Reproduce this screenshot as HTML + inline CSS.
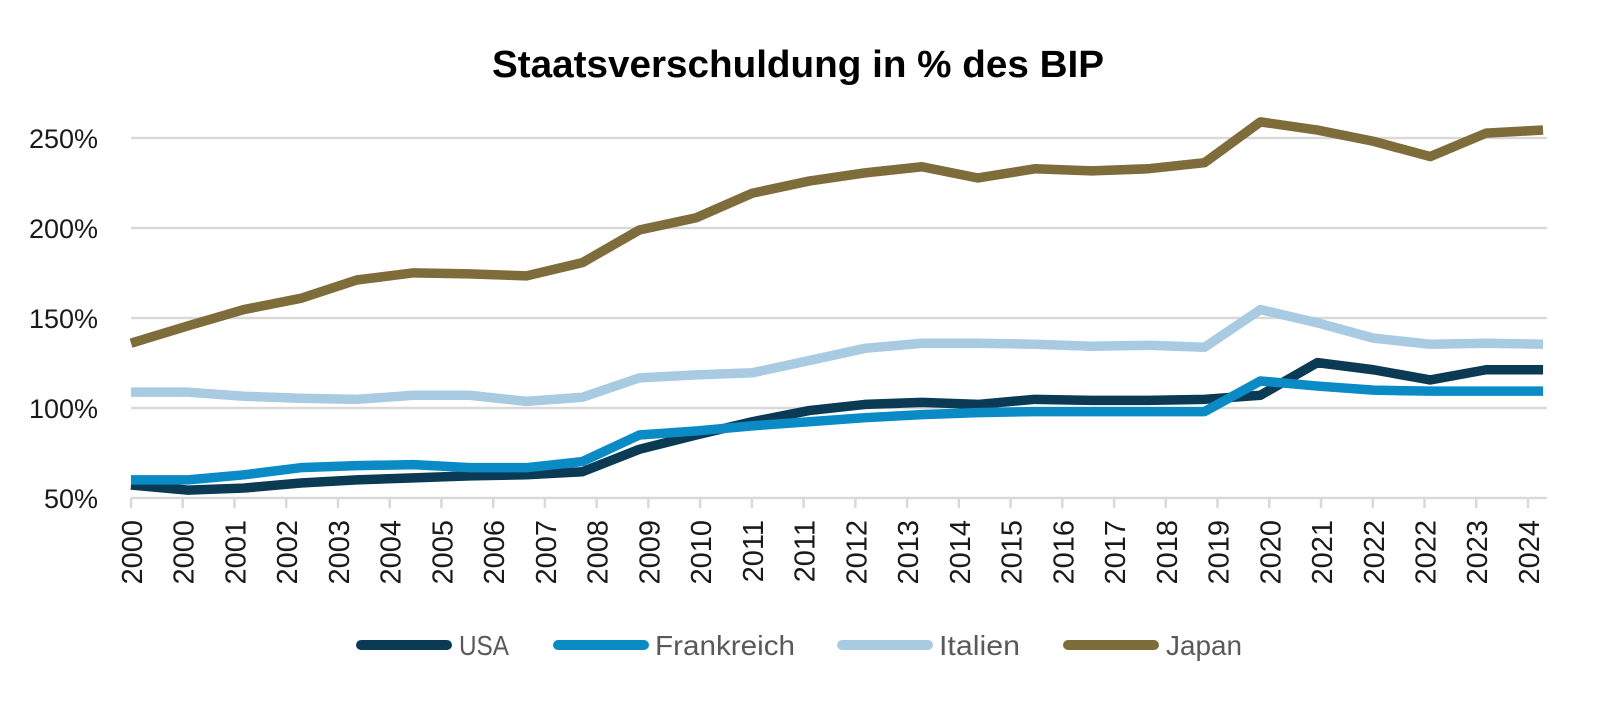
<!DOCTYPE html>
<html><head><meta charset="utf-8"><style>
html,body{margin:0;padding:0;background:#fff;}
svg{display:block;}
</style></head><body>
<svg width="1597" height="708" viewBox="0 0 1597 708" xmlns="http://www.w3.org/2000/svg" font-family="'Liberation Sans', sans-serif">
<rect width="1597" height="708" fill="#fff"/>
<text x="798" y="77" text-anchor="middle" font-size="38" font-weight="bold" fill="#000" textLength="612" lengthAdjust="spacingAndGlyphs">Staatsverschuldung in % des BIP</text>
<g stroke="#d9d9d9" stroke-width="2.5">
<line x1="131" x2="1547" y1="138" y2="138"/>
<line x1="131" x2="1547" y1="228" y2="228"/>
<line x1="131" x2="1547" y1="318" y2="318"/>
<line x1="131" x2="1547" y1="408" y2="408"/>
<line x1="131" x2="1547" y1="498" y2="498"/>
</g>
<g font-size="27" fill="#1a1a1a" text-anchor="end">
<text x="98" y="148">250%</text>
<text x="98" y="238">200%</text>
<text x="98" y="328">150%</text>
<text x="98" y="418">100%</text>
<text x="98" y="508">50%</text>
</g>
<g stroke="#d9d9d9" stroke-width="2.5">
<line x1="131" x2="131" y1="498" y2="508"/>
<line x1="182.7" x2="182.7" y1="498" y2="508"/>
<line x1="234.5" x2="234.5" y1="498" y2="508"/>
<line x1="286.2" x2="286.2" y1="498" y2="508"/>
<line x1="338" x2="338" y1="498" y2="508"/>
<line x1="389.7" x2="389.7" y1="498" y2="508"/>
<line x1="441.4" x2="441.4" y1="498" y2="508"/>
<line x1="493.2" x2="493.2" y1="498" y2="508"/>
<line x1="544.9" x2="544.9" y1="498" y2="508"/>
<line x1="596.7" x2="596.7" y1="498" y2="508"/>
<line x1="648.4" x2="648.4" y1="498" y2="508"/>
<line x1="700.1" x2="700.1" y1="498" y2="508"/>
<line x1="751.9" x2="751.9" y1="498" y2="508"/>
<line x1="803.6" x2="803.6" y1="498" y2="508"/>
<line x1="855.4" x2="855.4" y1="498" y2="508"/>
<line x1="907.1" x2="907.1" y1="498" y2="508"/>
<line x1="958.8" x2="958.8" y1="498" y2="508"/>
<line x1="1010.6" x2="1010.6" y1="498" y2="508"/>
<line x1="1062.3" x2="1062.3" y1="498" y2="508"/>
<line x1="1114.1" x2="1114.1" y1="498" y2="508"/>
<line x1="1165.8" x2="1165.8" y1="498" y2="508"/>
<line x1="1217.5" x2="1217.5" y1="498" y2="508"/>
<line x1="1269.3" x2="1269.3" y1="498" y2="508"/>
<line x1="1321" x2="1321" y1="498" y2="508"/>
<line x1="1372.8" x2="1372.8" y1="498" y2="508"/>
<line x1="1424.5" x2="1424.5" y1="498" y2="508"/>
<line x1="1476.2" x2="1476.2" y1="498" y2="508"/>
<line x1="1528" x2="1528" y1="498" y2="508"/>
</g>
<g font-size="29" fill="#1a1a1a" text-anchor="end">
<text transform="translate(142,520) rotate(-90)">2000</text>
<text transform="translate(193.7,520) rotate(-90)">2000</text>
<text transform="translate(245.5,520) rotate(-90)">2001</text>
<text transform="translate(297.2,520) rotate(-90)">2002</text>
<text transform="translate(349,520) rotate(-90)">2003</text>
<text transform="translate(400.7,520) rotate(-90)">2004</text>
<text transform="translate(452.4,520) rotate(-90)">2005</text>
<text transform="translate(504.2,520) rotate(-90)">2006</text>
<text transform="translate(555.9,520) rotate(-90)">2007</text>
<text transform="translate(607.7,520) rotate(-90)">2008</text>
<text transform="translate(659.4,520) rotate(-90)">2009</text>
<text transform="translate(711.1,520) rotate(-90)">2010</text>
<text transform="translate(762.9,520) rotate(-90)">2011</text>
<text transform="translate(814.6,520) rotate(-90)">2011</text>
<text transform="translate(866.4,520) rotate(-90)">2012</text>
<text transform="translate(918.1,520) rotate(-90)">2013</text>
<text transform="translate(969.8,520) rotate(-90)">2014</text>
<text transform="translate(1021.6,520) rotate(-90)">2015</text>
<text transform="translate(1073.3,520) rotate(-90)">2016</text>
<text transform="translate(1125.1,520) rotate(-90)">2017</text>
<text transform="translate(1176.8,520) rotate(-90)">2018</text>
<text transform="translate(1228.5,520) rotate(-90)">2019</text>
<text transform="translate(1280.3,520) rotate(-90)">2020</text>
<text transform="translate(1332,520) rotate(-90)">2021</text>
<text transform="translate(1383.8,520) rotate(-90)">2022</text>
<text transform="translate(1435.5,520) rotate(-90)">2022</text>
<text transform="translate(1487.2,520) rotate(-90)">2023</text>
<text transform="translate(1539,520) rotate(-90)">2024</text>
</g>
<g fill="none" stroke-width="9.5" stroke-linejoin="round" stroke-linecap="butt" transform="translate(131,138) scale(1.0166,1.02) translate(-129,-137.8)">
<polyline vector-effect="non-scaling-stroke" stroke="#7e6c3a" points="129,339 185,322 240,306 296,295 351,277 407,270 462,271 518,273 573,260 629,228 685,216 740,192 796,180 851,172 907,166 962,177 1018,168 1074,170 1129,168 1185,162 1240,122 1296,130 1351,141 1407,156 1462,133 1518,130"/>
<polyline vector-effect="non-scaling-stroke" stroke="#a9cbe2" points="129,387 185,387 240,391 296,393 351,394 407,390 462,390 518,396 573,392 629,373 685,370 740,368 796,356 851,344 907,339 962,339 1018,340 1074,342 1129,341 1185,343 1240,306 1296,319 1351,334 1407,340 1462,339 1518,340"/>
<polyline vector-effect="non-scaling-stroke" stroke="#0b3a55" points="129,478 185,483 240,481 296,476 351,473 407,471 462,469 518,468 573,465 629,443 685,429 740,416 796,405 851,399 907,397 962,399 1018,394 1074,395 1129,395 1185,394 1240,390 1296,358 1351,365 1407,375 1462,365 1518,365"/>
<polyline vector-effect="non-scaling-stroke" stroke="#0a8bc6" points="129,473 185,473 240,468 296,461 351,459 407,458 462,461 518,461 573,455 629,429 685,425 740,420 796,416 851,412 907,409 962,407 1018,406 1074,406 1129,406 1185,406 1240,376 1296,381 1351,385 1407,386 1462,386 1518,386"/>
</g>
<g stroke-width="10" stroke-linecap="round">
<line x1="361" x2="447" y1="645" y2="645" stroke="#0b3a55"/>
<line x1="558" x2="644" y1="645" y2="645" stroke="#0a8bc6"/>
<line x1="842" x2="928" y1="645" y2="645" stroke="#a9cbe2"/>
<line x1="1068" x2="1154" y1="645" y2="645" stroke="#7e6c3a"/>
</g>
<g font-size="28" fill="#595959">
<text x="459" y="655" textLength="50" lengthAdjust="spacingAndGlyphs">USA</text>
<text x="655" y="655" textLength="140" lengthAdjust="spacingAndGlyphs">Frankreich</text>
<text x="939" y="655" textLength="81" lengthAdjust="spacingAndGlyphs">Italien</text>
<text x="1166" y="655" textLength="76" lengthAdjust="spacingAndGlyphs">Japan</text>
</g>
</svg>
</body></html>
